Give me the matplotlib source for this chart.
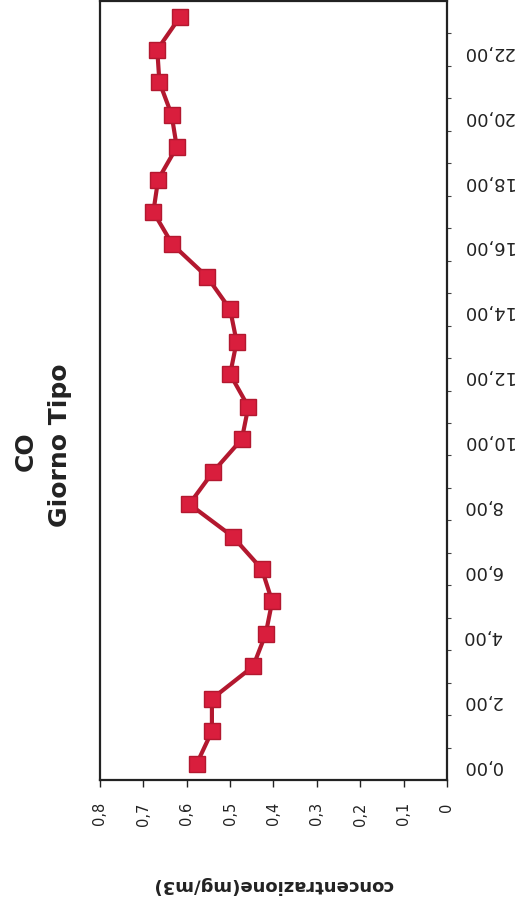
import matplotlib
matplotlib.use("Agg")
import matplotlib.pyplot as plt
from matplotlib.ticker import FixedLocator, FixedFormatter

# Data (chart is shown rotated 90 degrees counter-clockwise)
hours = list(range(24))
concentration = [0.577, 0.542, 0.542, 0.447, 0.418, 0.403, 0.427, 0.494,
                 0.594, 0.539, 0.473, 0.458, 0.500, 0.485, 0.500, 0.553,
                 0.633, 0.677, 0.666, 0.623, 0.635, 0.663, 0.668, 0.616]
hour_tick_pos = list(range(0, 24, 2))
hour_tick_labels = ["0,00", "2,00", "4,00", "6,00", "8,00", "10,00",
                    "12,00", "14,00", "16,00", "18,00", "20,00", "22,00"]
conc_tick_pos = [0.8, 0.7, 0.6, 0.5, 0.4, 0.3, 0.2, 0.1, 0.0]
conc_tick_labels = ["0,8", "0,7", "0,6", "0,5", "0,4", "0,3", "0,2", "0,1", "0"]

W, H = 522, 899
fig = plt.figure(figsize=(W / 100, H / 100), dpi=100)
ax = fig.add_axes([100 / W, 1 - 780 / H, (447 - 100) / W, 779 / H])

ax.plot(concentration, hours, color="#B3182F", lw=3, marker="s",
        markersize=11.5, markerfacecolor="#D91E3D", markeredgecolor="#B3182F",
        markeredgewidth=1, zorder=3)

ax.set_xlim(0.8, 0.0)
ax.set_ylim(-0.5, 23.5)

# concentration axis (bottom)
ax.xaxis.set_major_locator(FixedLocator(conc_tick_pos))
ax.xaxis.set_major_formatter(FixedFormatter(conc_tick_labels))
ax.tick_params(axis="x", direction="out", length=5, width=1, pad=11,
               labelsize=10.5, labelrotation=90, colors="#222222")

# hours axis (right)
ax.yaxis.tick_right()
ax.yaxis.set_major_locator(FixedLocator(hour_tick_pos))
ax.yaxis.set_major_formatter(FixedFormatter(hour_tick_labels))
ax.yaxis.set_minor_locator(FixedLocator([h + 0.5 for h in hours[:-1]]))
ax.tick_params(axis="y", which="major", length=0, pad=11, labelsize=13,
               labelrotation=180, colors="#222222")
ax.tick_params(axis="y", which="minor", direction="out", length=3, width=0.8,
               right=True, left=False, colors="#444444")

for s in ax.spines.values():
    s.set_linewidth(1.6)
    s.set_color("#222222")

# axis label (rotated upside down at bottom)
fig.text(272.5 / W, 1 - 885 / H, "concentrazione(mg/m3)", rotation=180,
         ha="center", va="center", fontsize=13, fontweight="bold",
         color="#222222")

# title (rotated on the left)
fig.text(26 / W, 1 - 451 / H, "CO", rotation=90, ha="center", va="center",
         fontsize=18, fontweight="bold", color="#222222")
fig.text(60 / W, 1 - 445 / H, "Giorno Tipo", rotation=90, ha="center",
         va="center", fontsize=18, fontweight="bold", color="#222222")

fig.savefig("out.png", dpi=100)
